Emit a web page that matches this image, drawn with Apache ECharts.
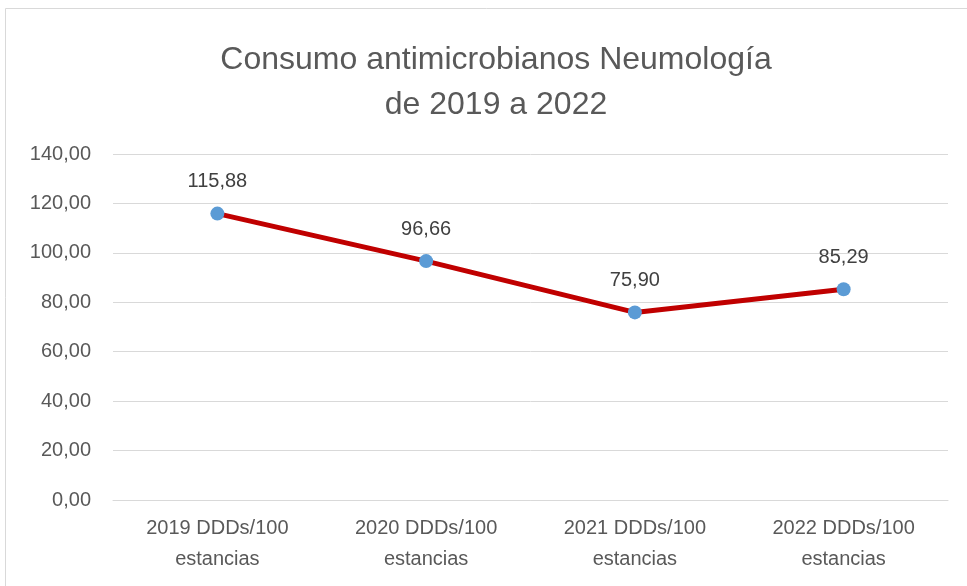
<!DOCTYPE html>
<html>
<head>
<meta charset="utf-8">
<script src="https://cdn.jsdelivr.net/npm/echarts@6/dist/echarts.min.js"></script>
<style>
  html, body { margin: 0; padding: 0; background: #fff; }
  #chart { width: 967px; height: 586px; }
</style>
</head>
<body>
<div id="chart"></div>
<script>
// datos
const categorias = ['2019 DDDs/100\nestancias', '2020 DDDs/100\nestancias', '2021 DDDs/100\nestancias', '2022 DDDs/100\nestancias']
const consumo = [115.88, 96.66, 75.90, 85.29]
const titulo = 'Consumo antimicrobianos Neumología\nde 2019 a 2022'

const fmt = v => v.toFixed(2).replace('.', ',')
const fuente = '"Liberation Sans", Arial, sans-serif'

const chart = echarts.init(document.getElementById('chart'))
chart.setOption({
  animation: false,
  title: {
    text: titulo,
    left: 491,
    textAlign: 'center',
    top: 33,
    textStyle: {
      fontFamily: fuente,
      fontSize: 32,
      fontWeight: 'normal',
      color: '#595959',
      lineHeight: 45
    }
  },
  graphic: [{
    type: 'rect',
    shape: { x: 5.5, y: 8.5, width: 1000, height: 1000 },
    style: { fill: 'none', stroke: '#d9d9d9', lineWidth: 1 },
    silent: true
  }],
  grid: { left: 113, right: 19, top: 154, bottom: 86 },
  xAxis: {
    type: 'category',
    data: categorias,
    axisLine: { lineStyle: { color: '#d9d9d9' } },
    axisTick: { show: false },
    axisLabel: {
      color: '#595959',
      fontFamily: fuente,
      fontSize: 20,
      lineHeight: 31,
      margin: 13
    }
  },
  yAxis: {
    type: 'value',
    min: 0,
    max: 140,
    interval: 20,
    axisLine: { show: false },
    axisTick: { show: false },
    splitLine: { lineStyle: { color: '#d9d9d9', width: 1 } },
    axisLabel: {
      color: '#595959',
      fontFamily: fuente,
      fontSize: 20,
      margin: 22,
      formatter: v => fmt(v)
    }
  },
  series: [{
    type: 'line',
    data: consumo,
    lineStyle: { color: '#C00000', width: 5 },
    symbol: 'circle',
    symbolSize: 14,
    itemStyle: { color: '#5B9BD5' },
    label: {
      show: true,
      position: 'top',
      distance: 15,
      color: '#404040',
      fontFamily: fuente,
      fontSize: 20,
      formatter: p => fmt(p.value)
    }
  }]
})
</script>
</body>
</html>
